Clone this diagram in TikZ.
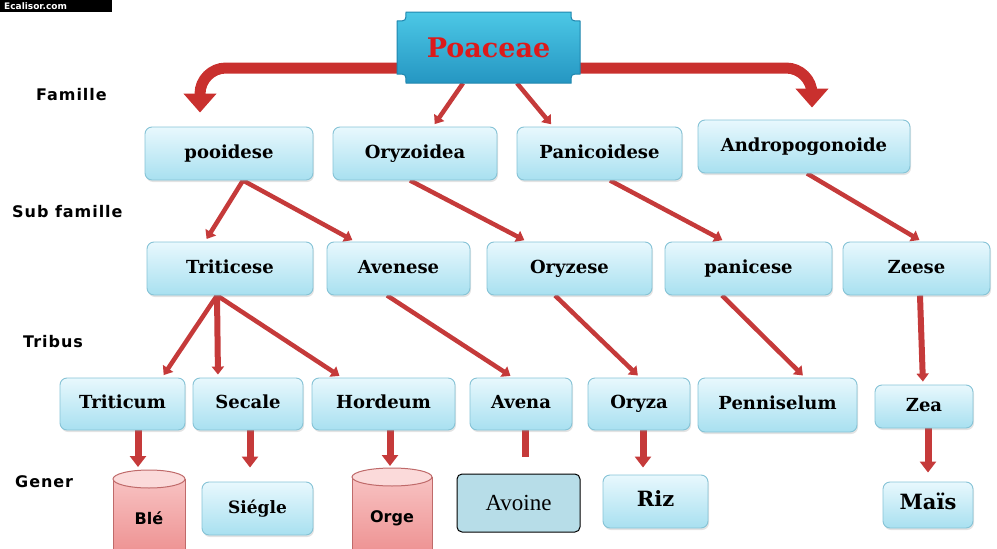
\documentclass[tikz,border=0pt]{standalone}
\usepackage{fontspec}
\newfontfamily\boxfont{DejaVu Serif}
\newfontfamily\labfont[LetterSpace=6]{DejaVu Sans}
\newfontfamily\cylfont{DejaVu Sans}
\newfontfamily\avfont{Liberation Serif}
\usetikzlibrary{arrows.meta,shadows}
\pgfdeclarelayer{bg}
\pgfsetlayers{bg,main}
\definecolor{boxtop}{HTML}{E8F8FD}
\definecolor{boxbot}{HTML}{A8E0F0}
\definecolor{boxedge}{HTML}{86C3D6}
\definecolor{linered}{HTML}{C53A3A}
\definecolor{bigred}{HTML}{C9302E}
\definecolor{pctop}{HTML}{4CC8E6}
\definecolor{pcbot}{HTML}{2596C2}
\definecolor{pcedge}{HTML}{1F86AE}
\definecolor{pctext}{HTML}{DD1A1A}
\definecolor{cyltop}{HTML}{F9C8C8}
\definecolor{cylbot}{HTML}{EE9494}
\definecolor{cyledge}{HTML}{BF6A6A}
\definecolor{cylcap}{HTML}{FBDADA}
\definecolor{avofill}{HTML}{B7DDE8}
\newcommand{\placebox}[6]{\node[box,minimum width={#4-#2},minimum height={#5-#3}] (#1) at ({(#2+#4)/2},{(#3+#5)/2}) {#6};}
\tikzset{
  box/.style={rounded corners=7pt, draw=boxedge, line width=0.9pt, top color=boxtop, bottom color=boxbot,
    font=\boxfont\bfseries\fontsize{18}{18}\selectfont, inner sep=0pt, text height=13pt, text depth=3.5pt,
    drop shadow={opacity=0.22,shadow xshift=1pt,shadow yshift=-2pt}},
  lab/.style={font=\labfont\bfseries\fontsize{16}{16}\selectfont, anchor=west, inner sep=0pt},
  conn/.style={linered, line width=4.5pt, -{Triangle[width=12pt,length=8pt]}, shorten >=3pt},
  vconn/.style={linered, line width=7pt, -{Triangle[width=16pt,length=11pt]}},
  bigarrow/.style={bigred, line width=11pt, -{Triangle[width=32pt,length=19pt]}, rounded corners=26pt},
  cyltext/.style={font=\cylfont\bfseries\fontsize{16}{16}\selectfont, inner sep=0pt}
}
\begin{document}
\begin{tikzpicture}[x=1pt,y=-1pt]
\useasboundingbox (0,0) rectangle (997,549);
% watermark
\fill[black] (0,0) rectangle (112,12);
\node[white, font=\cylfont\bfseries\fontsize{9}{9}\selectfont, anchor=base west, inner sep=0pt] (wm) at (4,9.5) {Ecalisor.com};
% Poaceae plaque
\path[top color=pctop, bottom color=pcbot, draw=pcedge, line width=1pt]
  (406,12) -- (571,12) .. controls (571,21) .. (580,21) -- (580,74) .. controls (571,74) .. (571,83)
  -- (406,83) .. controls (406,74) .. (397,74) -- (397,21) .. controls (406,21) .. (406,12) -- cycle;
\node[minimum width=183pt, minimum height=71pt, inner sep=0pt, font=\boxfont\bfseries\fontsize{27}{27}\selectfont, text=pctext] (pc) at (488.5,47.5) {Poaceae};
% left labels
\node[lab] (famille) at (36,95) {Famille};
\node[lab] (subfam) at (12,212) {Sub famille};
\node[lab] (tribus) at (23,342) {Tribus};
\node[lab] (gener) at (15,482) {Gener};
% row 1
\placebox{poo}{145}{127}{313}{180}{pooidese}
\placebox{ory}{333}{127}{497}{180}{Oryzoidea}
\placebox{pan}{517}{127}{682}{180}{Panicoidese}
\placebox{and}{698}{120}{910}{173}{Andropogonoide}
% row 2
\placebox{tri}{147}{242}{313}{295}{Triticese}
\placebox{ave}{327}{242}{470}{295}{Avenese}
\placebox{oze}{487}{242}{652}{295}{Oryzese}
\placebox{pce}{665}{242}{832}{295}{panicese}
\placebox{zee}{843}{242}{990}{295}{Zeese}
% row 3
\placebox{tcm}{60}{378}{185}{430}{Triticum}
\placebox{sec}{193}{378}{303}{430}{Secale}
\placebox{hor}{312}{378}{455}{430}{Hordeum}
\placebox{avn}{470}{378}{572}{430}{Avena}
\placebox{oza}{588}{378}{690}{430}{Oryza}
\placebox{pen}{698}{378}{857}{432}{Penniselum}
\placebox{zea}{875}{385}{973}{428}{Zea}
% row 4
\placebox{sie}{202}{482}{313}{535}{\fontsize{17}{17}\selectfont Siégle}
\placebox{riz}{603}{475}{708}{528}{\fontsize{21}{21}\selectfont Riz}
\placebox{mai}{883}{482}{973}{528}{\fontsize{21}{21}\selectfont Maïs}
% cylinders
\path[top color=cyltop, bottom color=cylbot] (113,479) -- (113,550) -- (185,550) -- (185,479)
  arc[start angle=0, end angle=-180, x radius=36, y radius=9] -- cycle;
\draw[cyledge, line width=1pt] (113,550) -- (113,479) (185,479) -- (185,550);
\draw[cyledge, line width=1pt, fill=cylcap] (149,479) ellipse [x radius=36, y radius=9];
\node[cyltext] (ble) at (149,518) {Blé};
\path[top color=cyltop, bottom color=cylbot] (352,477) -- (352,550) -- (432,550) -- (432,477)
  arc[start angle=0, end angle=-180, x radius=40, y radius=9] -- cycle;
\draw[cyledge, line width=1pt] (352,550) -- (352,477) (432,477) -- (432,550);
\draw[cyledge, line width=1pt, fill=cylcap] (392,477) ellipse [x radius=40, y radius=9];
\node[cyltext] (orge) at (392,518) {Orge};
\coordinate (bletop) at (138,467);
\coordinate (orgetop) at (390,466);
\coordinate (avnend) at (525,457);
% Avoine
\node[draw=black, line width=1pt, fill=avofill, rounded corners=5pt, minimum width=123pt, minimum height=58pt,
  inner sep=0pt, font=\avfont\fontsize{23}{23}\selectfont] (avo) at (518.5,503) {Avoine\hspace{9pt}};
% connectors
\begin{pgfonlayer}{bg}
\draw[bigarrow, shorten >=14pt] ([yshift=-20.5pt]pc.west) -| ([xshift=-29pt]poo.north);
\draw[bigarrow, shorten >=12pt] ([yshift=-20.5pt]pc.east) -| ([xshift=8pt]and.north);
\draw[conn] ([xshift=-25.5pt]pc.south) -- ([xshift=18pt]ory.north);
\draw[conn] ([xshift=28.5pt]pc.south) -- ([xshift=-46.5pt]pan.north);
\draw[conn] ([xshift=14pt]poo.south) -- ([xshift=-25pt]tri.north);
\draw[conn] ([xshift=14pt]poo.south) -- ([xshift=-43.5pt]ave.north);
\draw[conn] ([xshift=-5pt]ory.south) -- ([xshift=-42.5pt]oze.north);
\draw[conn] ([xshift=10.5pt]pan.south) -- ([xshift=-23.5pt]pce.north);
\draw[conn] ([xshift=3pt]and.south) -- ([xshift=5.5pt]zee.north);
\draw[conn] ([xshift=-13pt]tri.south) -- ([xshift=39.5pt]tcm.north);
\draw[conn, line width=6pt] ([xshift=-13pt]tri.south) -- ([xshift=-30pt]sec.north);
\draw[conn] ([xshift=-13pt]tri.south) -- ([xshift=-41.5pt]hor.north);
\draw[conn] ([xshift=-11.5pt]ave.south) -- ([xshift=-8pt]avn.north);
\draw[conn] ([xshift=-14.5pt]oze.south) -- ([xshift=1pt]oza.north);
\draw[conn] ([xshift=-26.5pt]pce.south) -- ([xshift=27.5pt]pen.north);
\draw[conn, line width=6pt] ([xshift=3.5pt]zee.south) -- ([xshift=-1pt]zea.north);
\draw[vconn] ([xshift=15.5pt]tcm.south) -- (bletop);
\draw[vconn, shorten >=14pt] ([xshift=2pt]sec.south) -- ([xshift=-7.5pt]sie.north);
\draw[vconn] ([xshift=6.5pt]hor.south) -- (orgetop);
\draw[linered, line width=7pt] ([xshift=4pt]avn.south) -- (avnend);
\draw[vconn, shorten >=7pt] ([xshift=4pt]oza.south) -- ([xshift=-12.5pt]riz.north);
\draw[vconn, shorten >=9pt] ([xshift=4pt]zea.south) -- (mai.north);
\end{pgfonlayer}
\end{tikzpicture}
\end{document}
